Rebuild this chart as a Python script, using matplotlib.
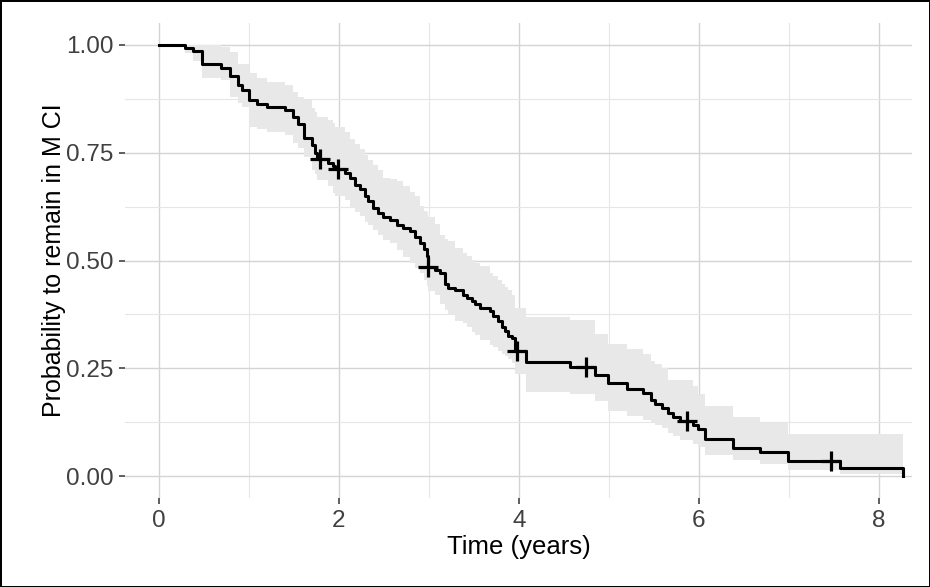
import matplotlib
matplotlib.use("Agg")
import matplotlib.pyplot as plt
import numpy as np

plt.rcParams['font.family'] = ['Liberation Sans', 'DejaVu Sans']

# Kaplan-Meier step values (time, survival, upper CI, lower CI)
times = [0.000, 0.289, 0.380, 0.474, 0.685, 0.790, 0.880, 0.920, 1.000, 1.090,
         1.200, 1.400, 1.490, 1.550, 1.610, 1.696, 1.733, 1.760, 1.881, 1.937,
         1.960, 2.067, 2.122, 2.178, 2.233, 2.289, 2.326, 2.381, 2.437, 2.493,
         2.567, 2.641, 2.715, 2.789, 2.844, 2.900, 2.944, 2.974, 2.985, 3.067,
         3.122, 3.178, 3.215, 3.289, 3.381, 3.419, 3.474, 3.511, 3.567, 3.678,
         3.715, 3.770, 3.807, 3.844, 3.881, 3.919, 3.960, 4.078, 4.567, 4.840,
         4.990, 5.200, 5.380, 5.470, 5.510, 5.585, 5.660, 5.715, 5.790, 5.937,
         5.990, 6.070, 6.380, 6.680, 6.990, 7.567, 8.270]
surv = [1.000, 0.992, 0.986, 0.956, 0.947, 0.928, 0.907, 0.895, 0.872, 0.863,
        0.856, 0.849, 0.832, 0.816, 0.785, 0.769, 0.750, 0.736, 0.727, 0.719,
        0.713, 0.703, 0.692, 0.676, 0.665, 0.649, 0.637, 0.622, 0.610, 0.601,
        0.593, 0.583, 0.575, 0.568, 0.554, 0.541, 0.527, 0.511, 0.486, 0.478,
        0.470, 0.445, 0.437, 0.431, 0.420, 0.413, 0.405, 0.398, 0.390, 0.382,
        0.371, 0.360, 0.345, 0.337, 0.326, 0.320, 0.290, 0.264, 0.254, 0.234,
        0.215, 0.203, 0.192, 0.176, 0.166, 0.157, 0.147, 0.137, 0.128, 0.119,
        0.110, 0.087, 0.066, 0.056, 0.035, 0.018, 0.000]
upper = [1.000, 1.000, 1.000, 1.000, 0.996, 0.984, 0.957, 0.957, 0.934, 0.923,
         0.915, 0.907, 0.892, 0.880, 0.872, 0.853, 0.845, 0.834, 0.825, 0.818,
         0.810, 0.799, 0.781, 0.770, 0.758, 0.745, 0.734, 0.722, 0.711, 0.692,
         0.688, 0.684, 0.672, 0.660, 0.649, 0.626, 0.615, 0.612, 0.600, 0.585,
         0.560, 0.550, 0.545, 0.530, 0.518, 0.510, 0.502, 0.495, 0.488, 0.470,
         0.465, 0.455, 0.445, 0.438, 0.431, 0.420, 0.389, 0.369, 0.361, 0.329,
         0.306, 0.295, 0.282, 0.266, 0.260, 0.250, 0.222, 0.222, 0.222, 0.210,
         0.191, 0.163, 0.137, 0.124, 0.097, 0.097, 0.097]
lower = [1.000, 0.981, 0.962, 0.923, 0.918, 0.880, 0.865, 0.855, 0.810, 0.805,
         0.799, 0.791, 0.772, 0.760, 0.741, 0.710, 0.700, 0.687, 0.672, 0.656,
         0.650, 0.640, 0.622, 0.612, 0.603, 0.590, 0.583, 0.570, 0.560, 0.548,
         0.541, 0.525, 0.509, 0.495, 0.482, 0.470, 0.455, 0.440, 0.430, 0.420,
         0.400, 0.385, 0.377, 0.360, 0.354, 0.345, 0.334, 0.328, 0.315, 0.305,
         0.299, 0.290, 0.283, 0.278, 0.272, 0.262, 0.237, 0.194, 0.190, 0.175,
         0.151, 0.139, 0.131, 0.125, 0.119, 0.111, 0.100, 0.092, 0.084, 0.075,
         0.068, 0.048, 0.037, 0.029, 0.015, 0.004, 0.004]

# censored observations
censor_times = [1.79, 1.99, 2.99, 3.98, 4.75, 5.87, 7.47]

t = np.array(times)
s = np.array(surv)
idx = np.searchsorted(t, censor_times, side='right') - 1
censor_surv = s[idx]

fig = plt.figure(figsize=(9.3, 5.87), dpi=100, facecolor='white',
                 edgecolor='black', linewidth=2)
ax = fig.add_axes([0.1344, 0.1516, 0.8462, 0.8092])

# confidence band (drawn up to the last time)
ax.fill_between(t, lower, upper, step='post', color='#e8e8e8', linewidth=0, zorder=1)

# survival curve: drop to zero at the last time
ax.step(t, s, where='post', color='black', linewidth=2.2, zorder=3)
ax.vlines(t[-1], 0, s[-2], color='black', linewidth=2.2, zorder=3)

ax.plot(censor_times, censor_surv, linestyle='none', marker='+', markersize=14,
        markeredgewidth=2.3, color='black', zorder=4)

ax.set_xlim(-0.378, 8.367)
ax.set_ylim(-0.051, 1.051)
ax.set_xticks([0, 2, 4, 6, 8])
ax.set_xticks([1, 3, 5, 7], minor=True)
ax.set_yticks([0, 0.25, 0.5, 0.75, 1.0])
ax.set_yticks([0.125, 0.375, 0.625, 0.875], minor=True)
ax.set_yticklabels(['0.00', '0.25', '0.50', '0.75', '1.00'])

ax.grid(which='major', color='#d4d4d4', linewidth=1.0, zorder=0)
ax.grid(which='minor', color='#e6e6e6', linewidth=0.8, zorder=0)
ax.set_axisbelow(True)
for sp in ax.spines.values():
    sp.set_visible(False)

ax.tick_params(which='major', length=4.5, width=1.1, color='#333333',
               labelsize=17.5, labelcolor='#404040', pad=4)
ax.tick_params(which='minor', length=0)

ax.set_xlabel('Time (years)', fontsize=18.5, color='black', labelpad=2)
ax.set_ylabel('Probability to remain in M CI', fontsize=18, color='black', labelpad=0)

fig.savefig('out.png', dpi=100, facecolor='white', edgecolor=fig.get_edgecolor())
